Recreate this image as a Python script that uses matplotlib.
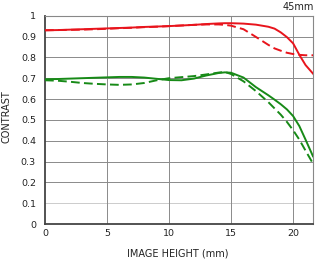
import matplotlib
matplotlib.use("Agg")
import matplotlib.pyplot as plt

x_mm = [0, 1, 2, 3, 4, 5, 6, 7, 8, 9, 10, 11, 12, 13, 14, 14.5, 15, 16, 17, 18, 18.5, 19, 19.5, 20, 20.5, 21, 21.6]

red_solid = [0.930, 0.931, 0.933, 0.935, 0.937, 0.939, 0.941, 0.943, 0.946, 0.948, 0.950, 0.953, 0.956,
             0.960, 0.963, 0.964, 0.964, 0.962, 0.957, 0.947, 0.938, 0.920, 0.897, 0.867, 0.812, 0.763, 0.722]
red_dashed = [0.930, 0.931, 0.932, 0.933, 0.935, 0.937, 0.940, 0.942, 0.945, 0.947, 0.950, 0.953, 0.956,
              0.958, 0.958, 0.956, 0.952, 0.935, 0.898, 0.860, 0.843, 0.832, 0.822, 0.816, 0.812, 0.810, 0.810]
green_solid = [0.695, 0.696, 0.698, 0.700, 0.702, 0.704, 0.706, 0.706, 0.703, 0.697, 0.691, 0.690, 0.698,
               0.713, 0.725, 0.728, 0.726, 0.703, 0.657, 0.618, 0.597, 0.575, 0.550, 0.518, 0.470, 0.405, 0.325]
green_dashed = [0.690, 0.688, 0.683, 0.677, 0.673, 0.670, 0.668, 0.670, 0.677, 0.690, 0.700, 0.705, 0.710,
                0.718, 0.727, 0.730, 0.720, 0.685, 0.638, 0.585, 0.555, 0.525, 0.490, 0.450, 0.405, 0.352, 0.290]

y_ticks = [0, 0.1, 0.2, 0.3, 0.4, 0.5, 0.6, 0.7, 0.8, 0.9, 1]
y_tick_labels = ["0", "0.1", "0.2", "0.3", "0.4", "0.5", "0.6", "0.7", "0.8", "0.9", "1"]
x_ticks = [0, 5, 10, 15, 20]
x_tick_labels = ["0", "5", "10", "15", "20"]

RED = "#e8141c"
GREEN = "#178a17"

plt.rcParams['font.family'] = ['DejaVu Sans']
fig = plt.figure(figsize=(3.15, 2.6), dpi=100)
ax = fig.add_axes([45/315, 36/260, 268/315, 208.3/260])

ax.set_xlim(0, 21.6)
ax.set_ylim(0, 1)

for yv in y_ticks[1:-1]:
    ax.axhline(yv, color="#cccccc" if yv == 0.1 else "#8a8a8a", lw=0.7, zorder=1)
for xv in x_ticks[1:]:
    ax.axvline(xv, color="#8a8a8a", lw=0.7, zorder=1)

dash = (0, (4.5, 2.2))
ax.plot(x_mm, red_dashed, color=RED, lw=1.4, linestyle=dash, zorder=3)
ax.plot(x_mm, red_solid, color=RED, lw=1.4, zorder=3)
ax.plot(x_mm, green_dashed, color=GREEN, lw=1.4, linestyle=dash, zorder=3)
ax.plot(x_mm, green_solid, color=GREEN, lw=1.4, zorder=3)

ax.set_xticks(x_ticks)
ax.set_xticklabels(x_tick_labels)
ax.set_yticks(y_ticks)
ax.set_yticklabels(y_tick_labels)
ax.tick_params(axis='y', length=0, pad=6.5, labelsize=6.8, colors="#222222")
ax.tick_params(axis='x', length=0, pad=3.5, labelsize=6.8, colors="#222222")

for s in ['left', 'bottom']:
    ax.spines[s].set_color("#444444")
    ax.spines[s].set_linewidth(1.3)
for s in ['top', 'right']:
    ax.spines[s].set_color("#888888")
    ax.spines[s].set_linewidth(0.8)

fig.text(178/315, (260-257)/260, "IMAGE HEIGHT (mm)", ha='center', va='baseline', fontsize=7, color="#222222")
fig.text(7/315, (260-116.5)/260, "CONTRAST", ha='center', va='center', rotation=90, fontsize=7, color="#222222")
fig.text(314/315, (260-9.5)/260, "45mm", ha='right', va='baseline', fontsize=7, color="#222222")

fig.savefig("out.png", dpi=100)
